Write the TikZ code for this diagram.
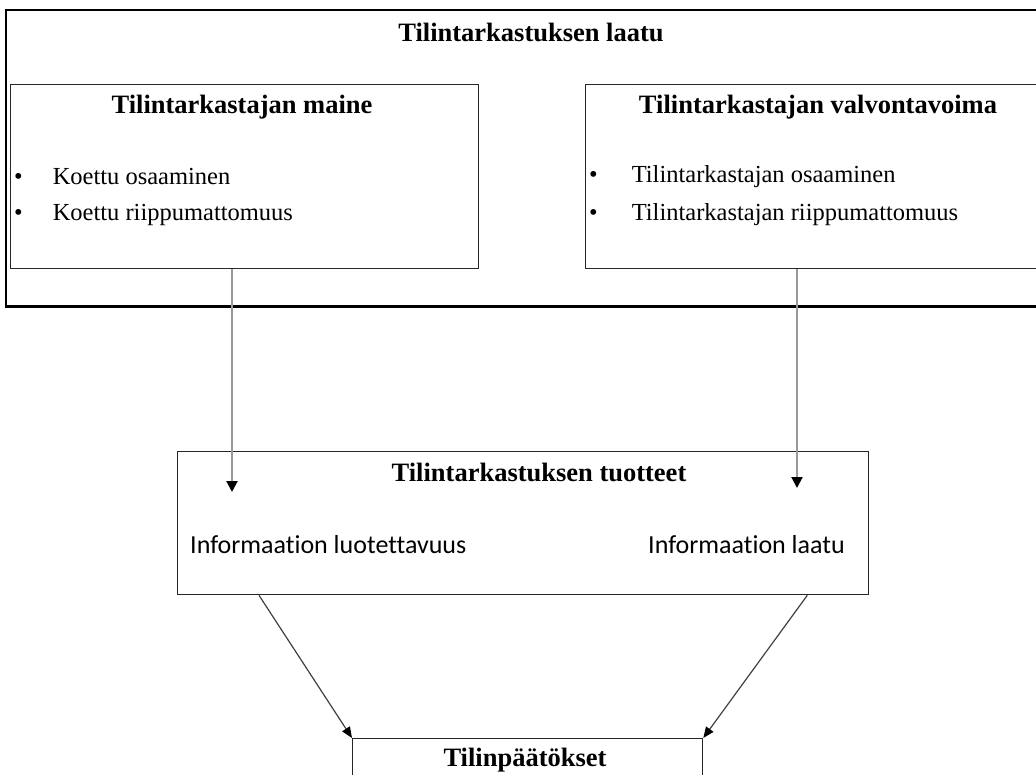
\documentclass[tikz,border=0pt]{standalone}
\usepackage{fontspec}
\setmainfont{Liberation Serif}
\newfontfamily\infofont[Ligatures=NoCommon]{Carlito}
\usepackage{xcolor}
\usepackage{tikz}
\usetikzlibrary{arrows.meta}

\begin{document}
\begin{tikzpicture}[
  x=1pt,y=-1pt,
  frame/.style={draw=black,line width=1.6pt,inner sep=0pt,anchor=north west},
  box/.style={draw=black!85,line width=1.3pt,inner sep=0pt,anchor=north west},
  title/.style={font=\fontsize{26.5}{30}\selectfont\bfseries,inner sep=0pt},
  item/.style={font=\fontsize{24.5}{28}\selectfont,anchor=west,inner sep=0pt},
  info/.style={font=\infofont\fontsize{26}{30}\selectfont,anchor=west,inner sep=0pt},
  arr/.style={draw=black!40,line width=2pt,-{Triangle[length=11pt,width=11pt,color=black]}},
  darr/.style={draw=black!75,line width=1.2pt,-{Triangle[length=11pt,width=9pt,color=black]}}
]
\useasboundingbox (0,0) rectangle (1036,774);
% outer frame
\node[frame,minimum width=1045pt,minimum height=296pt] (laatu) at (5,9) {};
\draw[line width=3.2pt] (laatu.south west) -- (laatu.south east);
\node[title] (laatut) at (531,32) {Tilintarkastuksen laatu};
% inner boxes
\node[box,minimum width=468pt,minimum height=184pt] (maine) at (10,84) {};
\node[box,minimum width=470pt,minimum height=184pt] (valvonta) at (585,84) {};
\node[title] (mainet) at (242,107) {Tilintarkastajan maine};
\node[title] (valvontat) at (818,107) {Tilintarkastajan valvontavoima};
\node[item] (m1) at (14,177) {\textbullet\hspace{30pt}Koettu osaaminen};
\node[item] (m2) at (14,215) {\textbullet\hspace{30pt}Koettu riippumattomuus};
\node[item] (v1) at (589,177) {\textbullet\hspace{34pt}Tilintarkastajan osaaminen};
\node[item] (v2) at (589,215) {\textbullet\hspace{34pt}Tilintarkastajan riippumattomuus};
% products
\node[box,minimum width=691pt,minimum height=143pt] (tuotteet) at (177,451) {};
\node[title] (tuotteett) at (539,472) {Tilintarkastuksen tuotteet};
\node[info] (luot) at (190,545) {Informaation luotettavuus};
\node[info] (info) at (648,545) {Informaation laatu};
% financial statements
\node[box,minimum width=350pt,minimum height=80pt] (paatos) at (352,738) {};
\node[title] (paatost) at (525,760) {Tilinpäätökset};
% connectors
\coordinate (tipL) at (232,492);
\coordinate (tipR) at (797,488);
\draw[arr] (maine.south -| tipL) -- (tipL);
\draw[arr] (valvonta.south -| tipR) -- (tipR);
\draw[darr] ([xshift=82pt]tuotteet.south west) -- (paatos.north west);
\draw[darr] ([xshift=-62pt]tuotteet.south east) -- (paatos.north east);
\end{tikzpicture}
\end{document}
